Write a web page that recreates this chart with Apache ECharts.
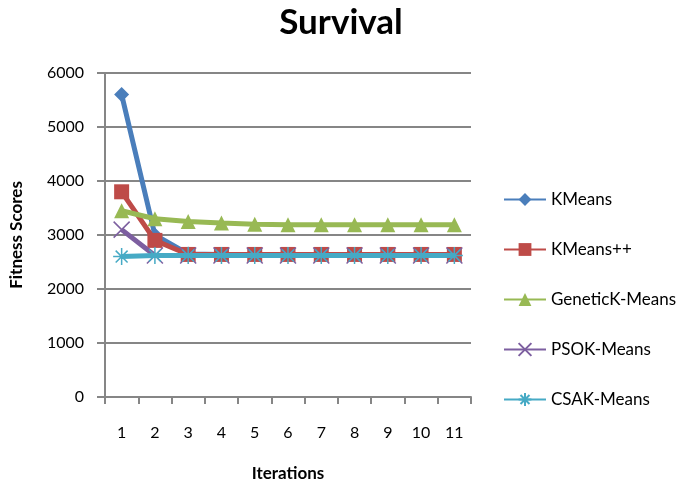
<!DOCTYPE html>
<html><head><meta charset="utf-8">
<script src="https://cdn.jsdelivr.net/npm/echarts@6/dist/echarts.min.js"></script>
<style>html,body{margin:0;padding:0;background:#fff}#c{width:685px;height:487px}</style>
</head><body><div id="c"></div>
<script>
var categories = ['1','2','3','4','5','6','7','8','9','10','11'];
var kmeans   = [5600, 3000, 2650, 2640, 2640, 2640, 2640, 2640, 2640, 2640, 2640];
var kmeanspp = [3800, 2900, 2640, 2640, 2640, 2640, 2640, 2640, 2640, 2640, 2640];
var genetic  = [3450, 3300, 3250, 3220, 3200, 3190, 3190, 3190, 3190, 3190, 3190];
var psok     = [3100, 2620, 2620, 2620, 2620, 2620, 2620, 2620, 2620, 2620, 2620];
var csak     = [2600, 2620, 2620, 2620, 2620, 2620, 2620, 2620, 2620, 2620, 2620];
var seriesNames = ['KMeans','KMeans++','GeneticK-Means','PSOK-Means','CSAK-Means'];
var yTicks = [0, 1000, 2000, 3000, 4000, 5000, 6000];

var FONT = 'Lato, "Open Sans", sans-serif';
var colors = ['#4a7ebb','#be4b48','#98b954','#7d5fa0','#46aac5'];
var symbols = ['diamond','rect','triangle',
  'path://M0,0L10,10M10,0L0,10',
  'path://M5,0L5,10M0,5L10,5M1.5,1.5L8.5,8.5M8.5,1.5L1.5,8.5'];
var sizes = [15, 15, 15, 16, 17];
var datas = [kmeans, kmeanspp, genetic, psok, csak];

var series = seriesNames.map(function(n, i){
  var cross = i >= 3;
  return {
    name: n, type: 'line', data: datas[i],
    symbol: symbols[i], symbolSize: sizes[i], showAllSymbol: true,
    lineStyle: {color: colors[i], width: 5},
    itemStyle: cross ? {color: 'rgba(0,0,0,0)', borderColor: colors[i], borderWidth: 1.5} : {color: colors[i]},
    emphasis: {disabled: true},
    z: 2 + i
  };
});

var chart = echarts.init(document.getElementById('c'), null, {renderer: 'canvas'});
chart.setOption({
  animation: false,
  backgroundColor: '#fff',
  title: {text: 'Survival', left: 336, top: 0, textAlign: 'center',
    textStyle: {fontFamily: FONT, fontWeight: 'bold', fontSize: 35, color: '#000'}},
  grid: {left: 96, right: 214, top: 73, bottom: 88},
  legend: {orient: 'vertical', left: 498, top: 186, itemGap: 33,
    itemWidth: 42, itemHeight: 16,
    data: seriesNames,
    textStyle: {fontFamily: FONT, fontSize: 17, color: '#000'}},
  xAxis: {type: 'category', data: categories, boundaryGap: true,
    name: 'Iterations', nameLocation: 'middle', nameGap: 68,
    nameTextStyle: {fontFamily: FONT, fontWeight: 'bold', fontSize: 17, color: '#000'},
    axisLine: {lineStyle: {color: '#868686', width: 2}},
    axisTick: {show: true, length: 7, lineStyle: {color: '#868686', width: 2}},
    axisLabel: {fontFamily: FONT, fontSize: 16, color: '#000', margin: 28}},
  yAxis: {type: 'value', min: yTicks[0], max: yTicks[yTicks.length-1], interval: 1000,
    name: 'Fitness Scores', nameLocation: 'middle', nameGap: 80, nameRotate: 90,
    nameTextStyle: {fontFamily: FONT, fontWeight: 'bold', fontSize: 17, color: '#000'},
    axisLine: {show: true, lineStyle: {color: '#868686', width: 2}},
    axisTick: {show: true, length: 8, lineStyle: {color: '#868686', width: 2}},
    splitLine: {lineStyle: {color: '#868686', width: 2}},
    axisLabel: {fontFamily: FONT, fontSize: 16, color: '#000', margin: 21,
      formatter: function(v){ return String(v); }}},
  series: series
});
</script></body></html>
